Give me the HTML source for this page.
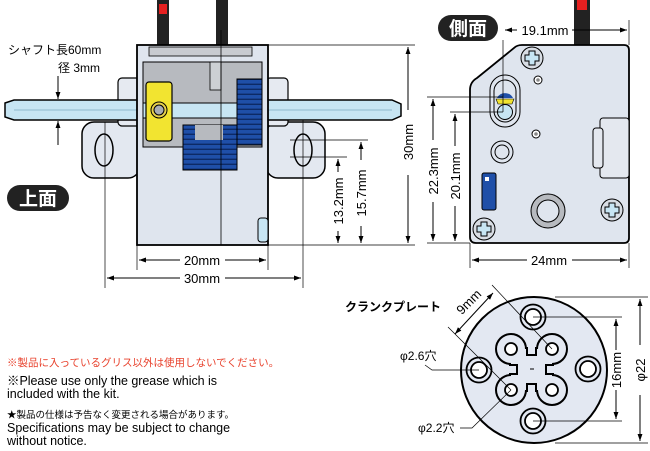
<!DOCTYPE html>
<html><head><meta charset="utf-8"><style>
html,body{margin:0;padding:0;background:#fff;}
svg{display:block;}
text{font-family:"Liberation Sans","Noto Sans CJK JP",sans-serif;}
</style></head><body>
<svg width="650" height="451" viewBox="0 0 650 451" xmlns="http://www.w3.org/2000/svg">
<defs>
<marker id="ar" viewBox="0 0 10 10" refX="10" refY="5" markerWidth="7" markerHeight="7" orient="auto-start-reverse"><path d="M0,1.5 L10,5 L0,8.5z" fill="#000"/></marker>
<pattern id="gear" width="6" height="5" patternUnits="userSpaceOnUse"><rect width="6" height="5" fill="#1f4fa8"/><rect y="3.6" width="6" height="1.4" fill="#0d2a66"/></pattern>
</defs>

<!-- ===== TOP VIEW ===== -->
<!-- wires -->
<rect x="157" y="0" width="12" height="46" fill="#222"/>
<rect x="159" y="4" width="8" height="10" fill="#e62020"/>
<rect x="216" y="0" width="12" height="46" fill="#222"/>
<!-- ears -->
<rect x="82" y="122" width="58" height="56" rx="12" fill="#e3e8f0" stroke="#000" stroke-width="1.5"/>
<ellipse cx="104" cy="150" rx="9" ry="16" fill="#e3e8f0" stroke="#000" stroke-width="1.5"/>
<rect x="266" y="122" width="59" height="56" rx="12" fill="#e3e8f0" stroke="#000" stroke-width="1.5"/>
<ellipse cx="303" cy="150" rx="9" ry="16" fill="#e3e8f0" stroke="#000" stroke-width="1.5"/>
<!-- side blocks -->
<rect x="118" y="78" width="22" height="48" rx="4" fill="#e6eaf1" stroke="#000" stroke-width="1.2"/>
<rect x="266" y="78" width="22" height="48" rx="4" fill="#e6eaf1" stroke="#000" stroke-width="1.2"/>
<!-- shaft -->
<path d="M5,103 L14,100 L392,100 L401,104 L401,116 L392,120 L14,120 L5,117 Z" fill="#c7e5f3" stroke="#000" stroke-width="1.5"/>
<line x1="14" y1="110" x2="392" y2="110" stroke="#8fb9cc" stroke-width="1"/>
<!-- body -->
<rect x="137" y="45" width="131" height="200" fill="#dfe5ee" stroke="#000" stroke-width="1.8"/>
<rect x="149" y="47" width="103" height="9" fill="#c8cbd0" stroke="#000" stroke-width="0.8"/>
<rect x="143" y="62" width="119" height="85" fill="#b7babf" stroke="#000" stroke-width="1"/>
<rect x="143" y="103" width="119" height="15" fill="#c7e5f3" stroke="#000" stroke-width="1"/>
<rect x="210" y="62" width="11" height="28" fill="#ccd0d4" stroke="#000" stroke-width="0.8"/>
<rect x="146" y="82" width="26" height="59" rx="3" fill="#f2e430" stroke="#000" stroke-width="1.2"/>
<circle cx="159" cy="110" r="8" fill="#e8d24a" stroke="#000" stroke-width="1"/>
<circle cx="159" cy="110" r="5" fill="#a8adb4" stroke="#000" stroke-width="1"/>
<rect x="237" y="79" width="25" height="66" fill="url(#gear)" stroke="#000" stroke-width="1"/>
<rect x="183" y="125" width="54" height="45" fill="url(#gear)" stroke="#000" stroke-width="1"/>
<rect x="195" y="125" width="28" height="15" fill="#b7babf"/>
<rect x="258" y="218" width="10" height="24" rx="3" fill="#c7e5f3" stroke="#000" stroke-width="1"/>
<line x1="221" y1="30" x2="221" y2="245" stroke="#000" stroke-width="0.8"/>
<!-- top dims -->
<line x1="137" y1="245" x2="137" y2="270" stroke="#000" stroke-width="0.7"/>
<line x1="268" y1="245" x2="268" y2="270" stroke="#000" stroke-width="0.7"/>
<line x1="105" y1="122" x2="105" y2="288" stroke="#000" stroke-width="0.7"/>
<line x1="303" y1="120" x2="303" y2="288" stroke="#000" stroke-width="0.7"/>
<line x1="139" y1="260" x2="180" y2="260" stroke="#000" marker-start="url(#ar)"/>
<line x1="225" y1="260" x2="266" y2="260" stroke="#000" marker-end="url(#ar)"/>
<text x="202" y="265" font-size="13" text-anchor="middle">20mm</text>
<line x1="107" y1="278" x2="180" y2="278" stroke="#000" marker-start="url(#ar)"/>
<line x1="225" y1="278" x2="301" y2="278" stroke="#000" marker-end="url(#ar)"/>
<text x="202" y="283" font-size="13" text-anchor="middle">30mm</text>
<!-- right dims -->
<line x1="268" y1="45" x2="415" y2="45" stroke="#000" stroke-width="0.7"/>
<line x1="268" y1="245" x2="415" y2="245" stroke="#000" stroke-width="0.7"/>
<line x1="290" y1="140" x2="368" y2="140" stroke="#000" stroke-width="0.7"/>
<line x1="290" y1="157" x2="347" y2="157" stroke="#000" stroke-width="0.7"/>
<line x1="408" y1="47" x2="408" y2="110" stroke="#000" marker-start="url(#ar)"/>
<line x1="408" y1="175" x2="408" y2="243" stroke="#000" marker-end="url(#ar)"/>
<text transform="translate(413,142) rotate(-90)" font-size="13" text-anchor="middle">30mm</text>
<line x1="361" y1="142" x2="361" y2="160" stroke="#000" marker-start="url(#ar)"/>
<line x1="361" y1="226" x2="361" y2="243" stroke="#000" marker-end="url(#ar)"/>
<text transform="translate(366,193) rotate(-90)" font-size="13" text-anchor="middle">15.7mm</text>
<line x1="338" y1="159" x2="338" y2="172" stroke="#000" marker-start="url(#ar)"/>
<line x1="338" y1="231" x2="338" y2="243" stroke="#000" marker-end="url(#ar)"/>
<text transform="translate(343,201) rotate(-90)" font-size="13" text-anchor="middle">13.2mm</text>
<!-- shaft label -->
<text x="8" y="54" font-size="12">シャフト長60mm</text>
<text x="100" y="72" font-size="12" text-anchor="end">径  3mm</text>
<line x1="58" y1="76" x2="58" y2="99" stroke="#000" marker-end="url(#ar)"/>
<line x1="58" y1="145" x2="58" y2="121" stroke="#000" marker-end="url(#ar)"/>
<!-- badge -->
<rect x="7" y="185" width="62" height="26" rx="13" fill="#222"/>
<text x="38" y="205" font-size="19" font-weight="bold" fill="#fff" text-anchor="middle">上面</text>

<!-- ===== SIDE VIEW ===== -->
<rect x="574" y="0" width="16" height="46" fill="#222"/>
<rect x="577" y="0" width="10" height="10" fill="#e62020"/>
<path d="M522,45 L624,45 Q629,45 629,50 L629,238 Q629,243 624,243 L476,243 Q470,243 470,237 L470,90 Q470,82 477,78 L514,48 Q517,45 522,45 Z" fill="#dfe5ee" stroke="#000" stroke-width="1.8"/>
<rect x="600" y="118" width="29" height="60" rx="3" fill="#e4e8ef" stroke="#000" stroke-width="1"/>
<rect x="593" y="128" width="10" height="40" rx="3" fill="#e4e8ef" stroke="#000" stroke-width="1"/>
<g fill="#c7e5f3" stroke="#000" stroke-width="1">
<circle cx="532" cy="58" r="11" fill="#d8dde4"/><circle cx="484" cy="229" r="11" fill="#d8dde4"/><circle cx="612" cy="210" r="11" fill="#d8dde4"/>
<path d="M529,51 h6 v4 h4 v6 h-4 v4 h-6 v-4 h-4 v-6 h4z"/>
<path d="M481,222 h6 v4 h4 v6 h-4 v4 h-6 v-4 h-4 v-6 h4z"/>
<path d="M609,203 h6 v4 h4 v6 h-4 v4 h-6 v-4 h-4 v-6 h4z"/>
</g>
<circle cx="538" cy="80" r="4" fill="#fff" stroke="#000"/><circle cx="538" cy="80" r="1.8" fill="#888"/>
<circle cx="536" cy="134" r="4" fill="#fff" stroke="#000"/><circle cx="536" cy="134" r="1.8" fill="#888"/>
<circle cx="502" cy="152" r="11" fill="#dfe5ee" stroke="#000"/><circle cx="502" cy="152" r="7" fill="#dfe5ee" stroke="#000"/>
<circle cx="548" cy="211" r="17" fill="#b7babf" stroke="#000"/><circle cx="548" cy="211" r="11" fill="#dfe5ee" stroke="#000"/>
<rect x="482" y="173" width="14" height="37" rx="2" fill="#1f4fa8" stroke="#000"/>
<rect x="485" y="177" width="4" height="4" fill="#fff"/>
<rect x="490" y="75" width="30" height="52" rx="15" fill="#dfe5ee" stroke="#000" stroke-width="1"/>
<rect x="494" y="80" width="22" height="42" rx="11" fill="#dfe5ee" stroke="#000" stroke-width="1"/>
<path d="M497,98 A9,9 0 0 1 513,98 Z" fill="#1f4fa8"/>
<path d="M496,99 L514,99 L512,104 L498,104 Z" fill="#f2e430" stroke="#000" stroke-width="0.6"/>
<circle cx="505" cy="112" r="7.5" fill="#c7e5f3" stroke="#000"/>
<!-- side dims -->
<line x1="503" y1="40" x2="503" y2="112" stroke="#000" stroke-width="0.7"/>
<line x1="629" y1="20" x2="629" y2="45" stroke="#000" stroke-width="0.7"/>
<line x1="505" y1="30" x2="517" y2="30" stroke="#000" marker-start="url(#ar)"/>
<line x1="572" y1="30" x2="627" y2="30" stroke="#000" marker-end="url(#ar)"/>
<text x="545" y="35" font-size="13" text-anchor="middle">19.1mm</text>
<line x1="427" y1="97" x2="503" y2="97" stroke="#000" stroke-width="0.7"/>
<line x1="450" y1="112" x2="503" y2="112" stroke="#000" stroke-width="0.7"/>
<line x1="427" y1="243" x2="470" y2="243" stroke="#000" stroke-width="0.7"/>
<line x1="470" y1="243" x2="470" y2="268" stroke="#000" stroke-width="0.7"/>
<line x1="629" y1="243" x2="629" y2="268" stroke="#000" stroke-width="0.7"/>
<line x1="433" y1="99" x2="433" y2="140" stroke="#000" marker-start="url(#ar)"/>
<line x1="433" y1="202" x2="433" y2="241" stroke="#000" marker-end="url(#ar)"/>
<text transform="translate(438,171) rotate(-90)" font-size="13" text-anchor="middle">22.3mm</text>
<line x1="455" y1="114" x2="455" y2="146" stroke="#000" marker-start="url(#ar)"/>
<line x1="455" y1="206" x2="455" y2="241" stroke="#000" marker-end="url(#ar)"/>
<text transform="translate(460,176) rotate(-90)" font-size="13" text-anchor="middle">20.1mm</text>
<line x1="472" y1="260" x2="527" y2="260" stroke="#000" marker-start="url(#ar)"/>
<line x1="572" y1="260" x2="627" y2="260" stroke="#000" marker-end="url(#ar)"/>
<text x="549" y="265" font-size="13" text-anchor="middle">24mm</text>
<rect x="438" y="15" width="60" height="26" rx="13" fill="#222"/>
<text x="468" y="35" font-size="19" font-weight="bold" fill="#fff" text-anchor="middle">側面</text>

<!-- ===== CRANK PLATE ===== -->
<circle cx="534" cy="370" r="73" fill="#e3e8f2" stroke="#000" stroke-width="2"/>
<g stroke="#000" stroke-width="4" fill="#e3e8f2">
<circle cx="511" cy="349" r="14"/><circle cx="552" cy="349" r="14"/><circle cx="511" cy="390" r="14"/><circle cx="552" cy="390" r="14"/>
<path d="M511,349 H526 V356 H537 V349 H552 V364 H545 V375 H552 V390 H537 V383 H526 V390 H511 V375 H518 V364 H511 Z"/>
</g>
<g fill="#e3e8f2">
<circle cx="511" cy="349" r="14"/><circle cx="552" cy="349" r="14"/><circle cx="511" cy="390" r="14"/><circle cx="552" cy="390" r="14"/>
<path d="M511,349 H526 V356 H537 V349 H552 V364 H545 V375 H552 V390 H537 V383 H526 V390 H511 V375 H518 V364 H511 Z"/>
</g>
<g fill="#fff" stroke="#000" stroke-width="1.8">
<circle cx="511" cy="349" r="6"/><circle cx="552" cy="349" r="6"/><circle cx="511" cy="390" r="6"/><circle cx="552" cy="390" r="6"/>
<circle cx="533" cy="317" r="12.5" fill="#e3e8f2"/><circle cx="533" cy="317" r="8"/>
<circle cx="533" cy="421" r="12.5" fill="#e3e8f2"/><circle cx="533" cy="421" r="8"/>
<circle cx="479" cy="370" r="12.5" fill="#e3e8f2"/><circle cx="479" cy="370" r="8"/>
<circle cx="588" cy="369" r="12.5" fill="#e3e8f2"/><circle cx="588" cy="369" r="8"/>
</g>
<line x1="530" y1="369" x2="534" y2="369" stroke="#000" stroke-width="1"/>
<!-- crank dims -->
<line x1="555" y1="297" x2="648" y2="297" stroke="#000" stroke-width="0.7"/>
<line x1="555" y1="443" x2="648" y2="443" stroke="#000" stroke-width="0.7"/>
<line x1="640" y1="299" x2="640" y2="345" stroke="#000" marker-start="url(#ar)"/>
<line x1="640" y1="395" x2="640" y2="441" stroke="#000" marker-end="url(#ar)"/>
<text transform="translate(645,370) rotate(-90)" font-size="13" text-anchor="middle">φ22</text>
<line x1="533" y1="317" x2="622" y2="317" stroke="#000" stroke-width="0.7"/>
<line x1="533" y1="421" x2="622" y2="421" stroke="#000" stroke-width="0.7"/>
<line x1="616" y1="319" x2="616" y2="350" stroke="#000" marker-start="url(#ar)"/>
<line x1="616" y1="390" x2="616" y2="419" stroke="#000" marker-end="url(#ar)"/>
<text transform="translate(621,370) rotate(-90)" font-size="13" text-anchor="middle">16mm</text>
<line x1="492" y1="285" x2="552" y2="349" stroke="#000" stroke-width="0.7"/>
<line x1="448" y1="327" x2="511" y2="390" stroke="#000" stroke-width="0.7"/>
<line x1="455" y1="334" x2="493" y2="293" stroke="#000" marker-start="url(#ar)" marker-end="url(#ar)"/>
<text transform="translate(472,305) rotate(-45)" font-size="13" text-anchor="middle">9mm</text>
<text x="345" y="311" font-size="12" font-weight="bold">クランクプレート</text>
<text x="400" y="360" font-size="12">φ2.6穴</text>
<polyline points="425,365 432,370 479,370" fill="none" stroke="#000" stroke-width="0.7"/>
<text x="418" y="432" font-size="12">φ2.2穴</text>
<polyline points="460,428 472,428 511,390" fill="none" stroke="#000" stroke-width="0.7"/>

<!-- ===== NOTES ===== -->
<text x="7" y="366" font-size="10.5" fill="#e8412c">※製品に入っているグリス以外は使用しないでください。</text>
<text x="7" y="385" font-size="12.5" textLength="210" lengthAdjust="spacing">※Please use only the grease which is</text>
<text x="7" y="398" font-size="12.5">included with the kit.</text>
<text x="7" y="418" font-size="9.5">★製品の仕様は予告なく変更される場合があります。</text>
<text x="7" y="432" font-size="12.5">Specifications may be subject to change</text>
<text x="7" y="445" font-size="12.5">without notice.</text>
</svg>
</body></html>
